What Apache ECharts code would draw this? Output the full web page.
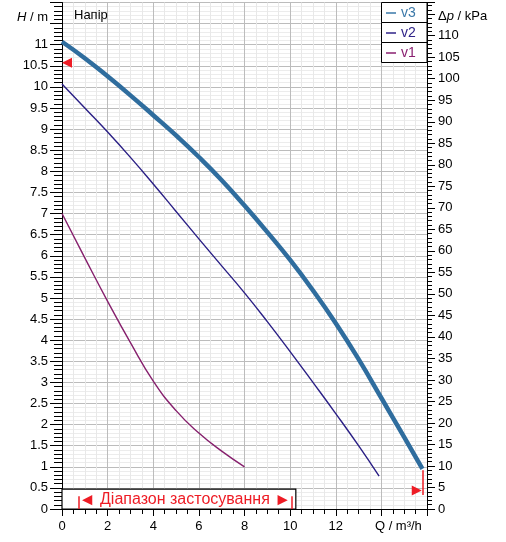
<!DOCTYPE html>
<html>
<head>
<meta charset="utf-8">
<script src="https://cdn.jsdelivr.net/npm/echarts@6/dist/echarts.min.js"></script>
<style>
html, body { margin: 0; padding: 0; background: #fff; }
#main { width: 506px; height: 542px; }
</style>
</head>
<body>
<div id="main"></div>
<script>
// pump curves, Q in m³/h, H in m
var v3Q = [0, 1, 2, 3, 4, 5, 6, 7, 8, 9, 10, 11, 12, 13, 14, 15, 15.8];
var v3H = [11.07, 10.68, 10.25, 9.8, 9.33, 8.85, 8.34, 7.79, 7.19, 6.56, 5.9, 5.18, 4.4, 3.55, 2.63, 1.7, 0.95];
var v2Q = [0, 1, 2, 3, 4, 5, 6, 7, 8, 9, 10, 11, 12, 13, 13.9];
var v2H = [10.07, 9.5, 8.93, 8.33, 7.7, 7.05, 6.4, 5.76, 5.12, 4.44, 3.73, 3.0, 2.26, 1.5, 0.78];
var v1Q = [0, 1, 2, 3, 4, 5, 6, 7, 8];
var v1H = [7.0, 5.95, 4.92, 3.94, 3.03, 2.33, 1.8, 1.37, 1.0];

// range of application and markers
var rangeQ = [0.75, 10.05];
var rangeBoxTop = [10.25, 0.47];
var rangeText = '{t|◄} Діапазон застосування {t|►}';
var headMarker = [0.22, 10.57];
var endMarkerQ = 15.8;
var endMarkerH = [0.33, 0.92];
var endArrow = [15.55, 0.44];

var kPaPerM = 9.81;
var xAxisTitle = 'Q / m³/h';
var chartTitle = 'Напір';

function pairs(q, h) {
    return q.map(function (x, i) { return [x, h[i]]; });
}

var myChart = echarts.init(document.getElementById('main'));
var font = 'Liberation Sans, Arial, sans-serif';
var axisBlack = { lineStyle: { color: '#000', width: 1 } };
var red = '#ee1c25';

var options = {
    animation: false,
    backgroundColor: '#fff',
    textStyle: { fontFamily: font },
    title: {
        text: chartTitle,
        left: 69, top: 4,
        textStyle: { fontSize: 13, fontWeight: 'normal', color: '#000', fontFamily: font }
    },
    grid: { left: 62, top: 2.5, width: 365, bottom: 33, containLabel: false },
    legend: {
        orient: 'vertical',
        left: 382, top: 3,
        padding: [3, 4, 0, 4],
        itemGap: 6,
        itemWidth: 10,
        itemHeight: 1.5,
        icon: 'rect',
        textStyle: { fontSize: 14, lineHeight: 14, fontFamily: font },
        data: [
            { name: 'v3', textStyle: { color: '#3a78a8' } },
            { name: 'v2', textStyle: { color: '#2f2388' } },
            { name: 'v1', textStyle: { color: '#8a2070' } }
        ]
    },
    // legend row boxes
    graphic: [0, 1, 2].map(function (i) {
        return {
            type: 'rect', z: 3,
            shape: { x: 381.5, y: 2.5 + i * 20, width: 45.5, height: 20 },
            style: { fill: '#fff', stroke: '#000', lineWidth: 1 }
        };
    }),
    xAxis: {
        type: 'value',
        min: 0, max: 16, interval: 2,
        axisLine: axisBlack,
        axisTick: { length: 7, lineStyle: { color: '#000' } },
        minorTick: { show: true, splitNumber: 4, length: 5, lineStyle: { color: '#000' } },
        splitLine: { show: true, lineStyle: { color: '#bcbcbc', width: 1 } },
        minorSplitLine: { show: true, lineStyle: { color: '#e8e8e8', width: 1 } },
        axisLabel: {
            color: '#000', fontSize: 13, margin: 11, showMaxLabel: false,
            formatter: function (v) {
                if (v === 14) return '{pad|}' + xAxisTitle;
                if (v === 16) return '';
                return v;
            },
            rich: { pad: { width: 34 } }
        }
    },
    yAxis: [{
        type: 'value',
        min: 0, max: 12, interval: 0.5,
        axisLine: { show: true, lineStyle: { color: '#000' } },
        axisTick: { length: 12, lineStyle: { color: '#000' } },
        minorTick: { show: true, splitNumber: 5, length: 8, lineStyle: { color: '#000' } },
        splitLine: { show: true, lineStyle: { color: '#bcbcbc', width: 1 } },
        minorSplitLine: { show: true, lineStyle: { color: '#ececec', width: 1 } },
        axisLabel: {
            color: '#000', fontSize: 13, margin: 14, showMaxLabel: false,
            formatter: function (v) {
                if (v === 11.5) return '{i|H}{n| / m}';
                if (v === 12) return '';
                return v;
            },
            rich: {
                i: { fontStyle: 'italic', fontSize: 13, padding: [0, 0, 12, 0] },
                n: { fontSize: 13, padding: [0, 0, 12, 0] }
            }
        }
    }, {
        type: 'value',
        position: 'right',
        min: 0, max: 12 * kPaPerM, interval: 5,
        axisLine: { show: true, lineStyle: { color: '#000' } },
        axisTick: { length: 8, lineStyle: { color: '#000' } },
        minorTick: { show: true, splitNumber: 5, length: 5, lineStyle: { color: '#000' } },
        splitLine: { show: false },
        axisLabel: {
            color: '#000', fontSize: 13, margin: 11, showMaxLabel: false,
            formatter: function (v) {
                if (v === 115) return '{n|Δ}{i|p}{n| / kPa}';
                return v;
            },
            rich: {
                i: { fontStyle: 'italic', fontSize: 13, padding: [4, 0, 0, 0] },
                n: { fontSize: 13, padding: [4, 0, 0, 0] }
            }
        }
    }],
    series: [{
        name: 'v3', type: 'line', smooth: 0.5, showSymbol: false,
        data: pairs(v3Q, v3H),
        color: '#3a78a8',
        lineStyle: { width: 4.5, color: '#2f6d9e' },
        z: 5
    }, {
        name: 'v2', type: 'line', smooth: 0.5, showSymbol: false,
        data: pairs(v2Q, v2H),
        color: '#2f2388',
        lineStyle: { width: 1.4, color: '#2a1f85' },
        z: 4
    }, {
        name: 'v1', type: 'line', smooth: 0.5, showSymbol: false,
        data: pairs(v1Q, v1H),
        color: '#8a2070',
        lineStyle: { width: 1.4, color: '#86206d' },
        z: 4
    }, {
        // range of application box and red markers
        name: 'range', type: 'line', data: [], z: 6,
        silent: true,
        markArea: {
            silent: true,
            itemStyle: { color: '#fff', borderColor: '#000', borderWidth: 1.2 },
            label: {
                show: true, position: 'inside', color: red,
                fontSize: 16, fontFamily: font, offset: [6, 1],
                formatter: rangeText,
                rich: { t: { fontSize: 17, color: red } }
            },
            data: [[{ coord: [0, 0] }, { coord: rangeBoxTop }]]
        },
        markLine: {
            silent: true, symbol: 'none',
            label: { show: false },
            lineStyle: { color: red, width: 1.5, type: 'solid' },
            data: [
                [{ coord: [rangeQ[0], 0] }, { coord: [rangeQ[0], 0.3] }],
                [{ coord: [rangeQ[1], 0] }, { coord: [rangeQ[1], 0.3] }],
                [{ coord: [endMarkerQ, endMarkerH[0]] }, { coord: [endMarkerQ, endMarkerH[1]] }]
            ]
        },
        markPoint: {
            silent: true, symbol: 'triangle',
            label: { show: false },
            itemStyle: { color: red },
            data: [
                { coord: headMarker, symbolSize: [10, 10], symbolRotate: 90 },
                { coord: endArrow, symbolSize: [10, 10], symbolRotate: -90 }
            ]
        }
    }]
};
myChart.setOption(options);
</script>
</body>
</html>
